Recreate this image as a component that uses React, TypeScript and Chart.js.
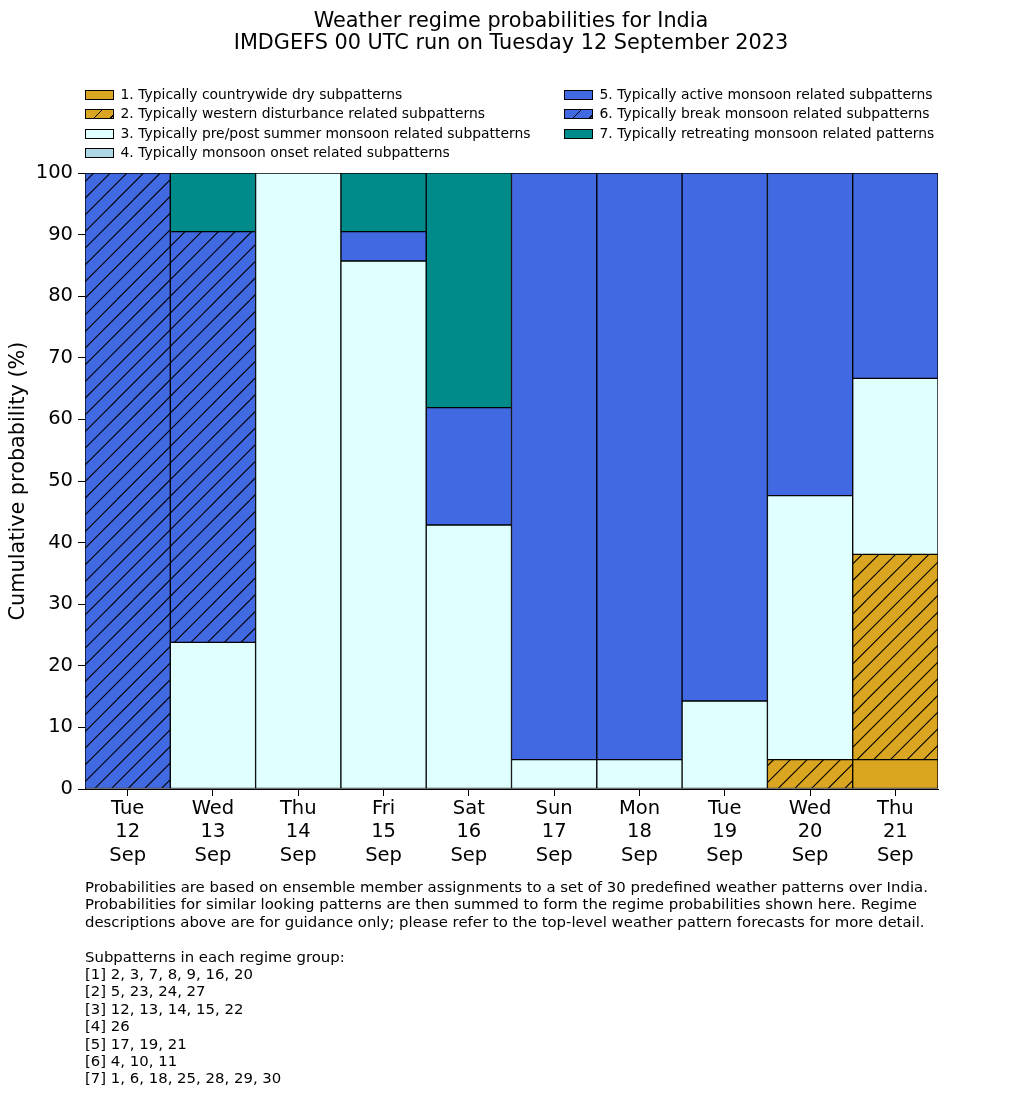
import React, { useEffect, useRef } from 'react';
import { Chart, registerables } from 'chart.js';
Chart.register(...registerables);

const FONT = "'DejaVu Sans', 'Liberation Sans', sans-serif";

const dayLabels: string[][] = [
  ['Tue', '12', 'Sep'],
  ['Wed', '13', 'Sep'],
  ['Thu', '14', 'Sep'],
  ['Fri', '15', 'Sep'],
  ['Sat', '16', 'Sep'],
  ['Sun', '17', 'Sep'],
  ['Mon', '18', 'Sep'],
  ['Tue', '19', 'Sep'],
  ['Wed', '20', 'Sep'],
  ['Thu', '21', 'Sep'],
];

const regimeNames = [
  '1. Typically countrywide dry subpatterns',
  '2. Typically western disturbance related subpatterns',
  '3. Typically pre/post summer monsoon related subpatterns',
  '4. Typically monsoon onset related subpatterns',
  '5. Typically active monsoon related subpatterns',
  '6. Typically break monsoon related subpatterns',
  '7. Typically retreating monsoon related patterns',
];

// probabilities (%) per day
const regime1 = [0, 0, 0, 0, 0, 0, 0, 0, 0, 4.76];
const regime2 = [0, 0, 0, 0, 0, 0, 0, 0, 4.76, 33.33];
const regime3 = [0, 23.81, 100, 85.71, 42.86, 4.76, 4.76, 14.29, 42.86, 28.57];
const regime4 = [0, 0, 0, 0, 0, 0, 0, 0, 0, 0];
const regime5 = [0, 0, 0, 4.76, 19.05, 95.24, 95.24, 85.71, 52.38, 33.33];
const regime6 = [100, 66.67, 0, 0, 0, 0, 0, 0, 0, 0];
const regime7 = [0, 9.52, 0, 9.52, 38.1, 0, 0, 0, 0, 0];

const regimeValues = [regime1, regime2, regime3, regime4, regime5, regime6, regime7];
const regimeColors = ['#DAA520', '#DAA520', '#E0FFFF', '#ADD8E6', '#4169E1', '#4169E1', '#008B8B'];
const regimeHatched = [false, true, false, false, false, true, false];

const yTicks = [0, 10, 20, 30, 40, 50, 60, 70, 80, 90, 100];

const titleLines = [
  'Weather regime probabilities for India',
  'IMDGEFS 00 UTC run on Tuesday 12 September 2023',
];

const footerText =
  'Probabilities are based on ensemble member assignments to a set of 30 predefined weather patterns over India.\n' +
  'Probabilities for similar looking patterns are then summed to form the regime probabilities shown here. Regime\n' +
  'descriptions above are for guidance only; please refer to the top-level weather pattern forecasts for more detail.\n' +
  '\n' +
  'Subpatterns in each regime group:\n' +
  '[1] 2, 3, 7, 8, 9, 16, 20\n' +
  '[2] 5, 23, 24, 27\n' +
  '[3] 12, 13, 14, 15, 22\n' +
  '[4] 26\n' +
  '[5] 17, 19, 21\n' +
  '[6] 4, 10, 11\n' +
  '[7] 1, 6, 18, 25, 28, 29, 30';

function makeHatch(ctx: CanvasRenderingContext2D, color: string) {
  const s = 100;
  const c = document.createElement('canvas');
  c.width = s;
  c.height = s;
  const g = c.getContext('2d')!;
  g.fillStyle = color;
  g.fillRect(0, 0, s, s);
  g.strokeStyle = '#000';
  g.lineWidth = 1.1;
  const n = 6;
  const step = s / n;
  for (let k = -n; k <= n; k++) {
    g.beginPath();
    g.moveTo(k * step, s);
    g.lineTo(k * step + s, 0);
    g.stroke();
  }
  return ctx.createPattern(c, 'repeat');
}

function Swatch({ color, hatched }: { color: string; hatched: boolean }) {
  const bg = hatched
    ? `repeating-linear-gradient(135deg, ${color} 0px, ${color} 10.8px, #000 10.8px, #000 11.8px)`
    : color;
  return (
    <div
      style={{
        position: 'absolute',
        left: 0,
        top: 5,
        width: 29,
        height: 10,
        boxSizing: 'border-box',
        border: '1px solid #000',
        background: bg,
      }}
    />
  );
}

export default function App() {
  const canvasRef = useRef<HTMLCanvasElement | null>(null);

  useEffect(() => {
    const canvas = canvasRef.current!;
    const ctx = canvas.getContext('2d')!;
    const datasets = regimeValues.map((vals, i) => ({
      label: regimeNames[i],
      data: vals.map((v) => (v > 0 ? v : null)),
      backgroundColor: regimeHatched[i] ? (makeHatch(ctx, regimeColors[i]) as any) : regimeColors[i],
      borderColor: '#000',
      borderWidth: 1,
      borderSkipped: false as const,
      categoryPercentage: 1,
      barPercentage: 1,
    }));
    const tickFont = { family: FONT, size: 19.5, lineHeight: 1.2 };
    const chart = new Chart(canvas, {
      type: 'bar',
      data: { labels: dayLabels as any, datasets: datasets as any },
      options: {
        animation: false,
        responsive: false,
        maintainAspectRatio: false,
        layout: { padding: { left: 0, right: 95, top: 173, bottom: 225 } },
        plugins: {
          legend: { display: false },
          tooltip: { enabled: false },
          title: { display: false },
        },
        scales: {
          x: {
            stacked: true,
            offset: true,
            grid: {
              offset: false,
              drawOnChartArea: false,
              drawTicks: true,
              tickLength: 7,
              color: '#000',
              lineWidth: 1,
            },
            border: { display: true, color: '#000', width: 1 },
            ticks: {
              color: '#000',
              font: tickFont,
              padding: 1,
              maxRotation: 0,
              autoSkip: false,
            },
            afterFit: (s: any) => {
              s.height = 100;
            },
          },
          y: {
            stacked: true,
            min: 0,
            max: 100,
            afterBuildTicks: (s: any) => {
              s.ticks = yTicks.map((v) => ({ value: v }));
            },
            ticks: { color: '#000', font: tickFont, padding: 5 },
            grid: {
              drawOnChartArea: false,
              drawTicks: true,
              tickLength: 7,
              color: '#000',
              lineWidth: 1,
            },
            border: { display: true, color: '#000', width: 1 },
            title: {
              display: true,
              text: 'Cumulative probability (%)',
              color: '#000',
              font: { family: FONT, size: 20.8 },
              padding: { top: 6, bottom: 0 },
            },
            afterFit: (s: any) => {
              s.width = 85;
            },
          },
        },
      },
    });
    return () => chart.destroy();
  }, []);

  return (
    <div
      style={{
        position: 'absolute',
        left: 0,
        top: 0,
        width: 1033,
        height: 1114,
        background: '#fff',
        fontFamily: FONT,
        color: '#000',
      }}
    >
      <canvas
        ref={canvasRef}
        width={1033}
        height={1114}
        style={{ position: 'absolute', left: 0, top: 0, width: 1033, height: 1114 }}
      />
      <div
        style={{
          position: 'absolute',
          left: 0,
          top: 8.5,
          width: 1022,
          textAlign: 'center',
          fontSize: 20.8,
          lineHeight: '22px',
          whiteSpace: 'nowrap',
        }}
      >
        {titleLines.map((t, i) => (
          <div key={i}>{t}</div>
        ))}
      </div>
      {regimeNames.map((name, i) => {
        const col = i < 4 ? 0 : 1;
        const row = i < 4 ? i : i - 4;
        return (
          <div
            key={i}
            style={{
              position: 'absolute',
              left: col === 0 ? 85 : 564,
              top: 84.8 + row * 19.4,
              height: 19.4,
              fontSize: 13.9,
              lineHeight: '19.4px',
              whiteSpace: 'nowrap',
            }}
          >
            <Swatch color={regimeColors[i]} hatched={regimeHatched[i]} />
            <span style={{ position: 'absolute', left: 35.5, top: 0 }}>{name}</span>
          </div>
        );
      })}
      <div
        style={{
          position: 'absolute',
          left: 85,
          top: 879,
          fontSize: 14.9,
          lineHeight: '17.4px',
          whiteSpace: 'pre',
        }}
      >
        {footerText}
      </div>
    </div>
  );
}
